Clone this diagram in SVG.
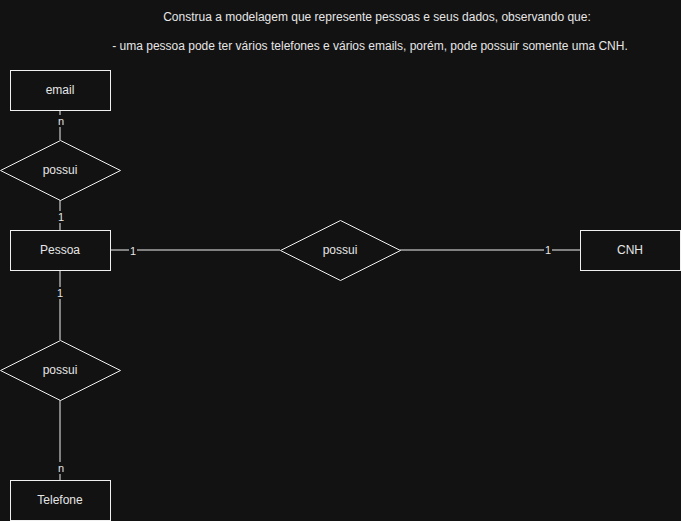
<svg xmlns="http://www.w3.org/2000/svg" width="681" height="521" viewBox="0 0 681 521">
<style>
.shape{fill:#121212;stroke:#f0f0f0;stroke-width:1}
.t{font-family:"Liberation Sans",Arial,sans-serif;font-size:12px;fill:#e6e6e6;text-anchor:middle;dominant-baseline:central}
.lbl{font-family:"Liberation Sans",Arial,sans-serif;font-size:11px;fill:#e6e6e6;text-anchor:middle;dominant-baseline:central}
.lb{fill:#121212}
.edge{stroke:#f0f0f0;stroke-width:1;fill:none}
</style>
<rect width="681" height="521" fill="#121212"/>
<g id="title">
<text class="t" x="377" y="17">Construa a modelagem que represente pessoas e seus dados, observando que:</text>
<text class="t" x="370" y="46">- uma pessoa pode ter vários telefones e vários emails, porém, pode possuir somente uma CNH.</text>
</g>
<g id="connectors">
<path class="edge" d="M60 110 V140"/>
<path class="edge" d="M60 200 V230"/>
<path class="edge" d="M110 250 H280"/>
<path class="edge" d="M400 250 H580"/>
<path class="edge" d="M60 270 V340"/>
<path class="edge" d="M60 400 V480"/>
<rect class="lb" x="57" y="115" width="8" height="12"/>
<text class="lbl" x="61" y="121">n</text>
<rect class="lb" x="57" y="211" width="8" height="12"/>
<text class="lbl" x="61" y="217">1</text>
<rect class="lb" x="129" y="245" width="8" height="12"/>
<text class="lbl" x="133" y="251">1</text>
<rect class="lb" x="544" y="244" width="8" height="12"/>
<text class="lbl" x="548" y="250">1</text>
<rect class="lb" x="56" y="287" width="8" height="12"/>
<text class="lbl" x="60" y="293">1</text>
<rect class="lb" x="57" y="462" width="8" height="12"/>
<text class="lbl" x="61" y="468">n</text>
</g>
<g id="email">
<rect class="shape" x="10.5" y="70.5" width="100" height="40"/>
<text class="t" x="60" y="90">email</text>
</g>
<g id="possui-email">
<polygon class="shape" points="60.5,140.5 120.5,170.5 60.5,200.5 0.5,170.5"/>
<text class="t" x="60" y="170">possui</text>
</g>
<g id="pessoa">
<rect class="shape" x="10.5" y="230.5" width="100" height="40"/>
<text class="t" x="60" y="250">Pessoa</text>
</g>
<g id="possui-cnh">
<polygon class="shape" points="340.5,220.5 400.5,250.5 340.5,280.5 280.5,250.5"/>
<text class="t" x="340" y="250">possui</text>
</g>
<g id="cnh">
<rect class="shape" x="580.5" y="230.5" width="100" height="40"/>
<text class="t" x="630" y="250">CNH</text>
</g>
<g id="possui-telefone">
<polygon class="shape" points="60.5,340.5 120.5,370.5 60.5,400.5 0.5,370.5"/>
<text class="t" x="60" y="370">possui</text>
</g>
<g id="telefone">
<rect class="shape" x="10.5" y="480.5" width="100" height="40"/>
<text class="t" x="60" y="500">Telefone</text>
</g>
</svg>
